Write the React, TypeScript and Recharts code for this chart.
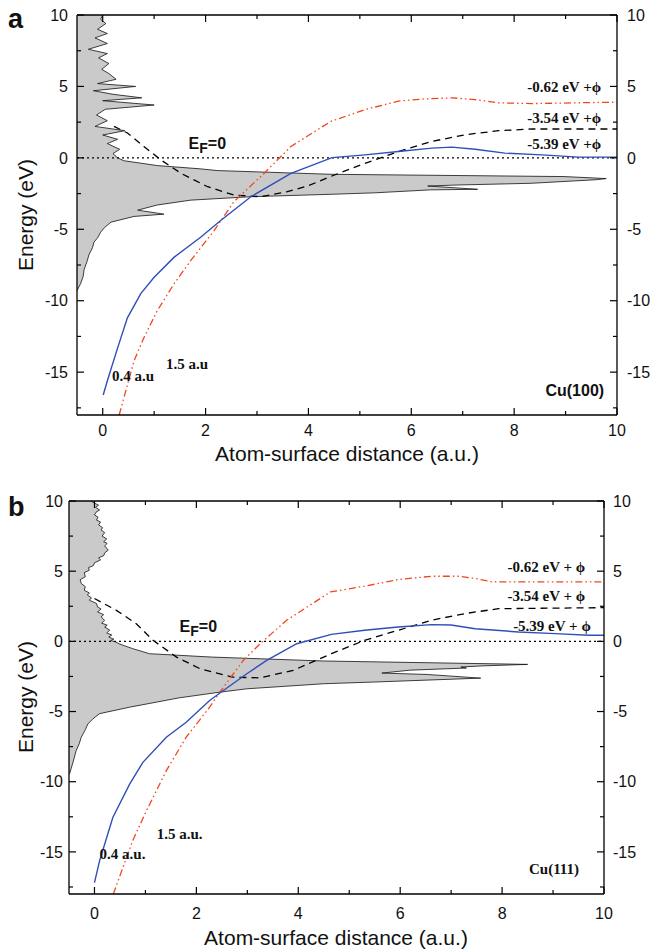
import React from 'react';
import {
  ComposedChart,
  Area,
  Line,
  XAxis,
  YAxis,
  ReferenceLine,
  ReferenceDot,
} from 'recharts';

type Pt = { d: number; e: number };

const sans = '"Liberation Sans", Arial, Helvetica, sans-serif';
const serif = '"Liberation Serif", "Times New Roman", Times, serif';

// tick values
const xTicks = [0, 1, 2, 3, 4, 5, 6, 7, 8, 9, 10];
const yTicks = [-17.5, -15, -12.5, -10, -7.5, -5, -2.5, 0, 2.5, 5, 7.5, 10];
const X_MIN = -0.5;
const X_MAX = 10;

// ---- panel a, Cu(100) ----
// surface DOS, drawn sideways: d = horizontal extent, e = energy (eV)
const dosA: Pt[] = [
  { e: 10, d: 0.0 }, { e: 9.7, d: -0.04 }, { e: 9.4, d: 0.06 }, { e: 9.0, d: -0.1 },
  { e: 8.7, d: 0.09 }, { e: 8.4, d: -0.15 }, { e: 8.0, d: 0.09 }, { e: 7.6, d: -0.28 },
  { e: 7.3, d: 0.09 }, { e: 7.0, d: -0.08 }, { e: 6.6, d: 0.12 }, { e: 6.2, d: -0.02 },
  { e: 5.9, d: 0.12 }, { e: 5.5, d: 0.26 }, { e: 5.2, d: -0.1 }, { e: 5.0, d: 0.64 },
  { e: 4.7, d: -0.18 }, { e: 4.45, d: 0.2 }, { e: 4.2, d: 0.76 }, { e: 4.0, d: 0.0 },
  { e: 3.7, d: 1.0 }, { e: 3.4, d: 0.05 }, { e: 3.0, d: -0.12 }, { e: 2.6, d: 0.09 },
  { e: 2.2, d: -0.15 }, { e: 1.9, d: 0.43 }, { e: 1.6, d: 0.0 }, { e: 1.3, d: 0.29 },
  { e: 1.0, d: 0.09 }, { e: 0.6, d: 0.33 }, { e: 0.3, d: 0.2 }, { e: 0.0, d: 0.29 },
  { e: -0.2, d: 0.41 }, { e: -0.54, d: 1.06 }, { e: -0.77, d: 1.9 }, { e: -0.89, d: 2.23 },
  { e: -1.15, d: 4.44 }, { e: -1.31, d: 8.97 }, { e: -1.45, d: 9.79 }, { e: -1.53, d: 9.6 },
  { e: -1.78, d: 8.33 }, { e: -1.9, d: 6.9 }, { e: -1.97, d: 6.32 }, { e: -2.2, d: 7.29 },
  { e: -2.24, d: 6.38 }, { e: -2.45, d: 5.28 }, { e: -2.55, d: 4.44 }, { e: -2.72, d: 2.88 },
  { e: -2.96, d: 1.71 }, { e: -3.3, d: 1.06 }, { e: -3.66, d: 0.68 }, { e: -3.94, d: 1.19 },
  { e: -4.1, d: 0.61 }, { e: -4.5, d: 0.16 }, { e: -4.9, d: 0.03 }, { e: -5.2, d: -0.04 },
  { e: -5.6, d: -0.1 }, { e: -5.9, d: -0.17 }, { e: -6.3, d: -0.2 }, { e: -6.8, d: -0.27 },
  { e: -7.2, d: -0.3 }, { e: -7.8, d: -0.36 }, { e: -8.3, d: -0.38 }, { e: -8.8, d: -0.43 },
  { e: -9.3, d: -0.5 },
];
const blueA: Pt[] = [
  { d: 0.01, e: -16.6 }, { d: 0.09, e: -15.6 }, { d: 0.29, e: -13.3 }, { d: 0.48, e: -11.2 },
  { d: 0.74, e: -9.5 }, { d: 1.0, e: -8.36 }, { d: 1.39, e: -6.95 }, { d: 1.91, e: -5.54 },
  { d: 2.3, e: -4.37 }, { d: 2.88, e: -2.72 }, { d: 3.66, e: -1.08 }, { d: 4.46, e: 0.02 },
  { d: 5.1, e: 0.21 }, { d: 5.75, e: 0.44 }, { d: 6.4, e: 0.68 }, { d: 6.79, e: 0.75 },
  { d: 7.24, e: 0.6 }, { d: 7.82, e: 0.33 }, { d: 8.54, e: 0.21 }, { d: 9.25, e: 0.05 },
  { d: 10, e: 0.05 },
];
const redA: Pt[] = [
  { d: 0.32, e: -18 }, { d: 0.61, e: -14.2 }, { d: 0.8, e: -12.6 }, { d: 1.06, e: -10.7 },
  { d: 1.39, e: -8.8 }, { d: 1.71, e: -7.2 }, { d: 2.17, e: -5.07 }, { d: 2.55, e: -3.07 },
  { d: 3.14, e: -1.08 }, { d: 3.66, e: 0.8 }, { d: 4.44, e: 2.56 }, { d: 5.1, e: 3.38 },
  { d: 5.75, e: 3.97 }, { d: 6.27, e: 4.13 }, { d: 6.79, e: 4.2 }, { d: 7.24, e: 4.08 },
  { d: 7.7, e: 3.85 }, { d: 8.35, e: 3.8 }, { d: 10, e: 3.9 },
];
const blackA: Pt[] = [
  { d: 0.22, e: 2.2 }, { d: 0.48, e: 1.74 }, { d: 0.8, e: 0.8 }, { d: 1.13, e: -0.14 },
  { d: 1.52, e: -1.08 }, { d: 2.04, e: -2.02 }, { d: 2.55, e: -2.6 }, { d: 3.07, e: -2.72 },
  { d: 3.59, e: -2.37 }, { d: 4.0, e: -1.95 }, { d: 4.4, e: -1.35 }, { d: 5.1, e: -0.38 },
  { d: 5.75, e: 0.44 }, { d: 6.4, e: 1.15 }, { d: 7.05, e: 1.62 }, { d: 7.7, e: 1.9 },
  { d: 8.35, e: 2.02 }, { d: 10, e: 2.02 },
];

// ---- panel b, Cu(111) ----
const dosB: Pt[] = [
  { e: 10, d: -0.07 }, { e: 9.85, d: 0.0 }, { e: 9.7, d: 0.08 }, { e: 9.55, d: 0.02 },
  { e: 9.36, d: 0.1 }, { e: 9.2, d: 0.03 }, { e: 9.0, d: 0.0 }, { e: 8.85, d: 0.07 },
  { e: 8.64, d: 0.04 }, { e: 8.5, d: 0.12 }, { e: 8.3, d: 0.08 }, { e: 8.1, d: 0.16 },
  { e: 7.93, d: 0.13 }, { e: 7.75, d: 0.2 }, { e: 7.5, d: 0.15 }, { e: 7.3, d: 0.24 },
  { e: 7.1, d: 0.18 }, { e: 6.98, d: 0.25 }, { e: 6.8, d: 0.2 }, { e: 6.5, d: 0.27 },
  { e: 6.3, d: 0.2 }, { e: 6.1, d: 0.18 }, { e: 5.95, d: 0.08 }, { e: 5.8, d: 0.12 },
  { e: 5.6, d: 0.0 }, { e: 5.4, d: -0.02 }, { e: 5.25, d: -0.12 }, { e: 5.07, d: -0.1 },
  { e: 4.9, d: -0.2 }, { e: 4.6, d: -0.18 }, { e: 4.4, d: -0.28 }, { e: 4.12, d: -0.26 },
  { e: 3.9, d: -0.18 }, { e: 3.64, d: -0.2 }, { e: 3.45, d: -0.1 }, { e: 3.3, d: -0.14 },
  { e: 3.1, d: -0.06 }, { e: 2.93, d: -0.1 }, { e: 2.7, d: 0.04 }, { e: 2.45, d: 0.06 },
  { e: 2.3, d: 0.13 }, { e: 2.1, d: 0.06 }, { e: 1.9, d: 0.18 }, { e: 1.74, d: 0.13 },
  { e: 1.5, d: 0.2 }, { e: 1.3, d: 0.14 }, { e: 1.15, d: 0.25 }, { e: 1.02, d: 0.2 },
  { e: 0.8, d: 0.3 }, { e: 0.6, d: 0.24 }, { e: 0.45, d: 0.34 }, { e: 0.31, d: 0.28 },
  { e: 0.15, d: 0.38 }, { e: 0.07, d: 0.32 }, { e: -0.05, d: 0.42 }, { e: -0.2, d: 0.5 },
  { e: -0.52, d: 0.75 }, { e: -0.88, d: 1.08 }, { e: -1.12, d: 2.3 }, { e: -1.4, d: 4.5 },
  { e: -1.64, d: 8.5 }, { e: -1.75, d: 7.6 }, { e: -1.83, d: 7.19 }, { e: -1.9, d: 7.3 },
  { e: -2.05, d: 6.2 }, { e: -2.26, d: 5.64 }, { e: -2.36, d: 6.53 }, { e: -2.62, d: 7.58 },
  { e: -2.9, d: 5.48 }, { e: -3.02, d: 4.5 }, { e: -3.38, d: 2.99 }, { e: -3.62, d: 2.46 },
  { e: -4.02, d: 1.67 }, { e: -4.69, d: 0.69 }, { e: -5.15, d: 0.1 }, { e: -5.52, d: -0.03 },
  { e: -5.88, d: -0.13 }, { e: -6.3, d: -0.18 }, { e: -6.83, d: -0.26 }, { e: -7.3, d: -0.3 },
  { e: -7.79, d: -0.36 }, { e: -8.6, d: -0.42 }, { e: -9.45, d: -0.49 },
];
const blueB: Pt[] = [
  { d: 0, e: -17.19 }, { d: 0.1, e: -15.64 }, { d: 0.36, e: -12.55 }, { d: 0.69, e: -10.17 },
  { d: 0.95, e: -8.62 }, { d: 1.41, e: -6.83 }, { d: 1.8, e: -5.76 }, { d: 2.26, e: -4.21 },
  { d: 2.53, e: -3.5 }, { d: 2.99, e: -2.31 }, { d: 3.38, e: -1.36 }, { d: 3.97, e: -0.17 },
  { d: 4.65, e: 0.5 }, { d: 5.3, e: 0.79 }, { d: 5.96, e: 1.02 }, { d: 6.61, e: 1.19 },
  { d: 7.0, e: 1.17 }, { d: 7.47, e: 0.9 }, { d: 8.32, e: 0.67 }, { d: 9.04, e: 0.55 },
  { d: 9.7, e: 0.43 }, { d: 10, e: 0.43 },
];
const redB: Pt[] = [
  { d: 0.37, e: -18 }, { d: 0.75, e: -14.2 }, { d: 1.02, e: -12.07 }, { d: 1.41, e: -9.21 },
  { d: 1.8, e: -6.83 }, { d: 2.26, e: -4.69 }, { d: 2.46, e: -3.62 }, { d: 2.92, e: -1.36 },
  { d: 3.25, e: -0.17 }, { d: 3.77, e: 1.5 }, { d: 4.63, e: 3.52 }, { d: 5.3, e: 3.93 },
  { d: 5.96, e: 4.4 }, { d: 6.61, e: 4.64 }, { d: 7.14, e: 4.64 }, { d: 7.47, e: 4.48 },
  { d: 7.8, e: 4.24 }, { d: 10, e: 4.24 },
];
const blackB: Pt[] = [
  { d: 0, e: 3.05 }, { d: 0.43, e: 2.21 }, { d: 0.82, e: 1.26 }, { d: 1.15, e: 0.07 },
  { d: 1.61, e: -1.12 }, { d: 2.07, e: -1.95 }, { d: 2.72, e: -2.55 }, { d: 3.25, e: -2.6 },
  { d: 3.9, e: -2.07 }, { d: 4.65, e: -0.88 }, { d: 5.3, e: 0.07 }, { d: 5.96, e: 0.79 },
  { d: 6.61, e: 1.5 }, { d: 7.27, e: 1.98 }, { d: 7.93, e: 2.33 }, { d: 10, e: 2.4 },
];

const BLUE = '#2f4fb8';
const RED = '#f0461e';

// panel boxes (page position + axis sizes)
const boxA = { top: 0, width: 662, height: 470, marginTop: 15, leftW: 77, rightW: 45, bottomH: 55 };
const boxB = { top: 486, width: 662, height: 465, marginTop: 15, leftW: 69, rightW: 58, bottomH: 57 };

const isMajor = (v: number, step: number) => Math.abs(v / step - Math.round(v / step)) < 1e-6;

// inward ticks, labels only on major ticks
function axisTick(side: 'left' | 'right' | 'bottom', step: number, margin: number) {
  return (props: any) => {
    const { x, y, payload } = props;
    const v = payload.value as number;
    const major = isMajor(v, step);
    const len = major ? 7 : 4;
    const txt = { fontFamily: sans, fontSize: 16, fill: '#111' };
    const ln = { stroke: '#000', strokeWidth: 1.2 };
    if (side === 'bottom') {
      const edge = y - margin;
      return (
        <g>
          <line x1={x} x2={x} y1={edge} y2={edge - len} {...ln} />
          {major && <text x={x} y={y} dy="0.71em" textAnchor="middle" {...txt}>{v}</text>}
        </g>
      );
    }
    if (side === 'left') {
      const edge = x + margin;
      return (
        <g>
          <line x1={edge} x2={edge + len} y1={y} y2={y} {...ln} />
          {major && <text x={x} y={y} dy="0.36em" textAnchor="end" {...txt}>{v}</text>}
        </g>
      );
    }
    const edge = x - margin;
    return (
      <g>
        <line x1={edge} x2={edge - len} y1={y} y2={y} {...ln} />
        {major && <text x={x} y={y} dy="0.36em" textAnchor="start" {...txt}>{v}</text>}
      </g>
    );
  };
}

// top edge of a panel box with its inward ticks
function TopEdge({ box }: { box: typeof boxA }) {
  const y = box.top + box.marginTop;
  const left = box.leftW;
  const right = box.width - box.rightW;
  return (
    <g stroke="#000">
      <line x1={left} x2={right} y1={y} y2={y} strokeWidth={1.3} />
      {xTicks.map((t) => {
        const tx = left + ((t - X_MIN) / (X_MAX - X_MIN)) * (right - left);
        return <line key={t} x1={tx} x2={tx} y1={y} y2={y + (isMajor(t, 2) ? 7 : 4)} strokeWidth={1.2} />;
      })}
    </g>
  );
}

const note = (content: React.ReactNode, anchor: 'start' | 'end', family: string, size: number) =>
  (p: any) => (
    <text
      x={p.viewBox.x}
      y={p.viewBox.y}
      textAnchor={anchor}
      fontFamily={family}
      fontSize={size}
      fontWeight="bold"
      fill="#111"
    >
      {content}
    </text>
  );

const efLabel = (
  <>
    E<tspan dy={4} fontSize={14}>F</tspan>
    <tspan dy={-4}>=0</tspan>
  </>
);

type PanelProps = {
  box: typeof boxA;
  gapL: number;
  gapR: number;
  gapB: number;
  dos: Pt[];
  blue: Pt[];
  red: Pt[];
  black: Pt[];
  children?: React.ReactNode;
};

function Panel(p: PanelProps) {
  const axisLine = { stroke: '#000', strokeWidth: 1.3 };
  const b = p.box;
  return (
    <ComposedChart
      width={b.width}
      height={b.height}
      layout="vertical"
      margin={{ top: b.marginTop, right: 0, bottom: 0, left: 0 }}
    >
      <XAxis
        type="number"
        domain={[X_MIN, X_MAX]}
        allowDataOverflow
        ticks={xTicks}
        interval={0}
        height={b.bottomH}
        axisLine={axisLine}
        tickLine={false}
        tickSize={0}
        tickMargin={p.gapB}
        tick={axisTick('bottom', 2, p.gapB)}
      />
      <YAxis
        type="number"
        dataKey="e"
        reversed
        domain={[-18, 10]}
        allowDataOverflow
        ticks={yTicks}
        interval={0}
        width={b.leftW}
        axisLine={axisLine}
        tickLine={false}
        tickSize={0}
        tickMargin={p.gapL}
        tick={axisTick('left', 5, p.gapL)}
      />
      <YAxis
        yAxisId="right"
        orientation="right"
        type="number"
        dataKey="e"
        reversed
        domain={[-18, 10]}
        allowDataOverflow
        ticks={yTicks}
        interval={0}
        width={b.rightW}
        axisLine={axisLine}
        tickLine={false}
        tickSize={0}
        tickMargin={p.gapR}
        tick={axisTick('right', 5, p.gapR)}
      />
      <Area
        data={p.dos}
        dataKey="d"
        type="linear"
        baseValue="dataMin"
        stroke="#111"
        strokeWidth={0.8}
        fill="#cacaca"
        fillOpacity={1}
        isAnimationActive={false}
      />
      <ReferenceLine y={0} stroke="#000" strokeWidth={1.3} strokeDasharray="2 3" />
      <Line
        data={p.black}
        dataKey="d"
        type="linear"
        stroke="#000"
        strokeWidth={1.3}
        strokeDasharray="7 5"
        dot={false}
        isAnimationActive={false}
      />
      <Line
        data={p.red}
        dataKey="d"
        type="linear"
        stroke={RED}
        strokeWidth={1.3}
        strokeDasharray="7 3 1.5 3 1.5 3"
        dot={false}
        isAnimationActive={false}
      />
      <Line
        data={p.blue}
        dataKey="d"
        type="linear"
        stroke={BLUE}
        strokeWidth={1.4}
        dot={false}
        isAnimationActive={false}
      />
      {/* invisible copy so the mirrored right axis gets a domain */}
      <Line
        data={p.blue}
        dataKey="d"
        yAxisId="right"
        stroke="none"
        dot={false}
        legendType="none"
        isAnimationActive={false}
      />
      {p.children}
    </ComposedChart>
  );
}

const dot = { r: 0, fill: 'none', stroke: 'none' };

export default function App() {
  return (
    <div style={{ position: 'absolute', left: 0, top: 0, width: 662, height: 951, background: '#fff' }}>
      <div style={{ position: 'absolute', left: 0, top: boxA.top }}>
        <Panel box={boxA} gapL={9} gapR={10} gapB={10} dos={dosA} blue={blueA} red={redA} black={blackA}>
          <ReferenceDot x={1.67} y={0.63} {...dot} label={note(efLabel, 'start', sans, 16)} />
          <ReferenceDot x={9.69} y={4.58} {...dot} label={note('-0.62 eV +ϕ', 'end', serif, 15)} />
          <ReferenceDot x={9.69} y={2.46} {...dot} label={note('-3.54 eV +ϕ', 'end', serif, 15)} />
          <ReferenceDot x={9.69} y={0.63} {...dot} label={note('-5.39 eV +ϕ', 'end', serif, 15)} />
          <ReferenceDot x={0.18} y={-15.6} {...dot} label={note('0.4 a.u', 'start', serif, 15)} />
          <ReferenceDot x={1.23} y={-14.8} {...dot} label={note('1.5 a.u', 'start', serif, 15)} />
          <ReferenceDot x={9.75} y={-16.7} {...dot} label={note('Cu(100)', 'end', sans, 16)} />
        </Panel>
      </div>
      <div style={{ position: 'absolute', left: 0, top: boxB.top }}>
        <Panel box={boxB} gapL={6} gapR={9} gapB={14} dos={dosB} blue={blueB} red={redB} black={blackB}>
          <ReferenceDot x={1.67} y={0.64} {...dot} label={note(efLabel, 'start', sans, 16)} />
          <ReferenceDot x={9.63} y={4.93} {...dot} label={note('-0.62 eV + ϕ', 'end', serif, 15)} />
          <ReferenceDot x={9.63} y={2.86} {...dot} label={note('-3.54 eV + ϕ', 'end', serif, 15)} />
          <ReferenceDot x={9.74} y={0.71} {...dot} label={note('-5.39 eV + ϕ', 'end', serif, 15)} />
          <ReferenceDot x={0.1} y={-15.5} {...dot} label={note('0.4 a.u.', 'start', serif, 15)} />
          <ReferenceDot x={1.22} y={-14.1} {...dot} label={note('1.5 a.u.', 'start', serif, 15)} />
          <ReferenceDot x={9.51} y={-16.6} {...dot} label={note('Cu(111)', 'end', serif, 15)} />
        </Panel>
      </div>
      <svg
        width={662}
        height={951}
        style={{ position: 'absolute', left: 0, top: 0, pointerEvents: 'none' }}
      >
        <TopEdge box={boxA} />
        <TopEdge box={boxB} />
        <g fontFamily={sans} fill="#111">
          <text x={8} y={28} fontSize={27} fontWeight="bold">a</text>
          <text x={8} y={516} fontSize={27} fontWeight="bold">b</text>
          <text x={33} y={215} fontSize={21} textAnchor="middle" transform="rotate(-90 33 215)">
            Energy (eV)
          </text>
          <text x={33} y={697} fontSize={21} textAnchor="middle" transform="rotate(-90 33 697)">
            Energy (eV)
          </text>
          <text x={347} y={461} fontSize={21} textAnchor="middle">Atom-surface distance (a.u.)</text>
          <text x={336} y={945} fontSize={21} textAnchor="middle">Atom-surface distance (a.u.)</text>
        </g>
      </svg>
    </div>
  );
}
